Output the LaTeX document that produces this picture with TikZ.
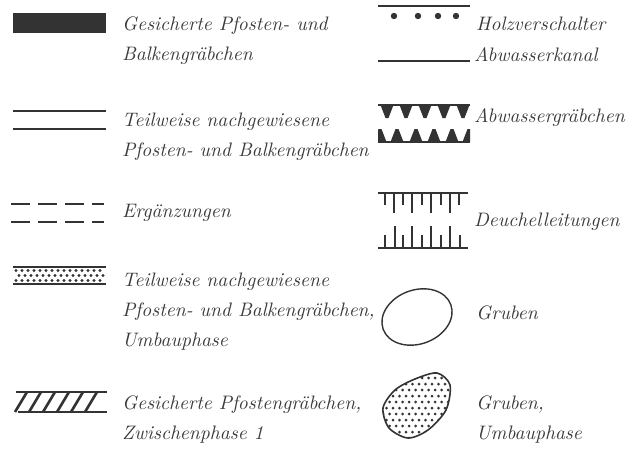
\documentclass[tikz,border=0pt]{standalone}
\usepackage{fontspec}
\setmainfont{lmroman10-regular.otf}[ItalicFont=lmroman10-italic.otf]
\usepackage{tikz}
\usetikzlibrary{positioning}
\definecolor{symgray}{HTML}{333333}
\definecolor{txtgray}{HTML}{3A3A3A}

\begin{document}
\begin{tikzpicture}[
        x=1pt, y=-1pt,
        legtext/.style={
            anchor=west,
            align=left,
            inner sep=0pt,
            text=txtgray,
            font=\fontsize{19.5}{30}\selectfont\itshape
        },
        symline/.style={symgray, line width=1.6pt},
        tick/.style={symgray, line width=1.5pt},
        hatchline/.style={symgray, line width=2.6pt}
    ]
    \useasboundingbox (0,0) rectangle (632,448);

    % linke Spalte
    \fill[symgray] (13,13) rectangle (106,33);
    \node[legtext] (gesichert) at (122,41) {Gesicherte Pfosten- und\\Balkengräbchen};

    \draw[symline] (13,111) -- (106,111);
    \draw[symline] (13,129) -- (106,129);
    \node[legtext] (teilweise) at (122,137) {Teilweise nachgewiesene\\Pfosten- und Balkengräbchen};

    \foreach \y in {204,222}
        \draw[symline, dash pattern=on 19pt off 8pt] (11,\y) -- (104,\y);
    \node[legtext] (ergaenzung) at (122,213) {Ergänzungen};

    \draw[symline] (13,267) -- (106,267);
    \draw[symline] (13,284) -- (106,284);
    \foreach \x in {16,22,...,104} {
        \fill[symgray] (\x,270.5) circle (1.6);
        \fill[symgray] (\x+3,275.5) circle (1.6);
        \fill[symgray] (\x,280.5) circle (1.6);
    }
    \node[legtext] (umbau) at (122,312) {Teilweise nachgewiesene\\Pfosten- und Balkengräbchen,\\Umbauphase};

    \draw[symline] (16,392) -- (107,392);
    \draw[symline] (18,412) -- (107,412);
    \foreach \x in {15,29,...,95}
        \draw[hatchline] (\x,412) -- (\x+12,392);
    \node[legtext] (zwischen) at (122,420) {Gesicherte Pfostengräbchen,\\Zwischenphase 1};

    % rechte Spalte
    \draw[symline] (378,6) -- (470,6);
    \foreach \x in {394,418,438,456}
        \fill[symgray] (\x,16) circle (3.2);
    \node[legtext] (holz) at (476,24) {Holzverschalter};

    \draw[symline] (378,61) -- (470,61);
    \node[legtext] (kanal) at (474,55) {Abwasserkanal};

    \draw[symline] (378,105) -- (470,105);
    \draw[symline] (378,142) -- (470,142);
    \begin{scope}
        \clip (378,100) rectangle (470,146);
        \foreach \x in {387,406,425,444,463}
            \fill[symgray] (\x-6.5,105) -- (\x+6.5,105) -- (\x+1.5,118) -- (\x-1.5,118) -- cycle;
        \foreach \x in {380,397,416,434,452,469}
            \fill[symgray] (\x-6.5,142) -- (\x+6.5,142) -- (\x+1.5,129) -- (\x-1.5,129) -- cycle;
    \end{scope}
    \node[legtext] (graebchen) at (474,118) {Abwassergräbchen};

    \draw[symline] (378,193) -- (468,193);
    \foreach \x in {385,403,422,441,459}
        \draw[tick] (\x,193) -- (\x,205);
    \foreach \x in {394,412,431,450}
        \draw[tick] (\x,193) -- (\x,213);
    \draw[symline] (378,248) -- (468,248);
    \foreach \x in {385,403,422,441,460}
        \draw[tick] (\x,248) -- (\x,235);
    \foreach \x in {395,412,431,450}
        \draw[tick] (\x,248) -- (\x,226);
    \node[legtext] (deuchel) at (474,222) {Deuchelleitungen};

    \draw[symgray, line width=1.4pt, rotate around={20:(417,317)}]
        (417,317) ellipse [x radius=36, y radius=27];
    \node[legtext] (gruben) at (476,313) {Gruben};

    \begin{scope}
        \clip plot[smooth cycle] coordinates {(437,373) (450,385) (446,410) (428,430) (408,438) (389,428) (383,408) (395,390) (415,379)};
        \foreach \y in {372,384,...,440}
            \foreach \x in {380,386.5,...,454} {
                \fill[symgray] (\x,\y) circle (1.5);
                \fill[symgray] (\x+3.2,\y+6) circle (1.5);
            }
    \end{scope}
    \draw[symgray, line width=1.6pt] plot[smooth cycle] coordinates {(437,373) (450,385) (446,410) (428,430) (408,438) (389,428) (383,408) (395,390) (415,379)};
    \node[legtext] (grubenumbau) at (476,420) {Gruben,\\Umbauphase};
\end{tikzpicture}
\end{document}
